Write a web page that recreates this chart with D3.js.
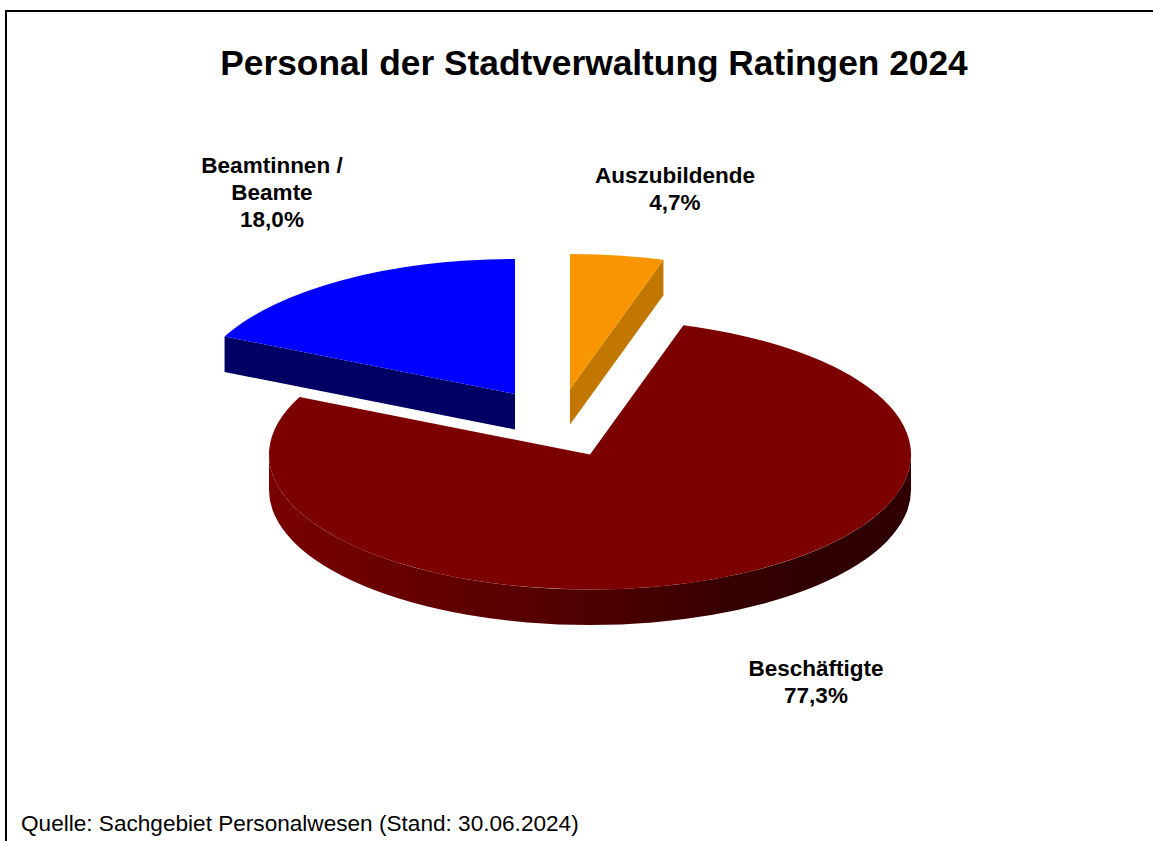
<!DOCTYPE html>
<html>
<head>
<meta charset="utf-8">
<script src="https://cdn.jsdelivr.net/npm/d3@7/dist/d3.min.js"></script>
<style>
html,body{margin:0;padding:0;background:#fff}
svg{display:block}
text{font-family:"Liberation Sans",Arial,sans-serif;fill:#000}
</style>
</head>
<body>
<svg id="c" width="1153" height="841"></svg>
<script>
const categories = ["Auszubildende", "Beschäftigte", "Beamtinnen / Beamte"];
const shares = [4.7, 77.3, 18.0];
const valueLabels = ["4,7%", "77,3%", "18,0%"];
const topColors = ["#f99500", "#7d0000", "#0000ff"];
const sideColors = ["#c27800", "url(#wall)", "#000064"];
const centers = [[570, 389], [590, 454.5], [515, 394]];
const labelLines = [["Auszubildende", "4,7%"], ["Beschäftigte", "77,3%"], ["Beamtinnen /", "Beamte", "18,0%"]];
const labelAnchors = [[675, 183], [816, 676], [272, 173]];
const titleText = "Personal der Stadtverwaltung Ratingen 2024";
const sourceText = "Quelle: Sachgebiet Personalwesen (Stand: 30.06.2024)";

const W = 1153, H = 841, rx = 321, ry = 135, depth = 35.5;
const svg = d3.select("#c");

// frame: top and left only
svg.append("path").attr("d", `M6,${H}V11H${W}`).attr("fill", "none").attr("stroke", "#000").attr("stroke-width", 2);

const defs = svg.append("defs");
const grad = defs.append("linearGradient").attr("id", "wall").attr("gradientUnits", "userSpaceOnUse")
  .attr("x1", centers[1][0] - rx).attr("x2", centers[1][0] + rx).attr("y1", 0).attr("y2", 0);
[[0, "#780000"], [0.2, "#680000"], [0.5, "#4e0000"], [0.7, "#380000"], [0.85, "#2e0000"], [1, "#300000"]]
  .forEach(([o, c]) => grad.append("stop").attr("offset", o).attr("stop-color", c));

const pie = d3.pie().sort(null).value(d => d);
const arcs = pie(shares);
const arc = d3.arc().innerRadius(0).outerRadius(rx);
const pt = (c, a, dy = 0) => [c[0] + rx * Math.sin(a), c[1] - ry * Math.cos(a) + dy];
const eps = 1e-6;

arcs.forEach((d, i) => {
  const c = centers[i];
  const g = svg.append("g");
  // outer wall: the part of the rim on the front half
  const a0 = Math.max(d.startAngle, Math.PI / 2), a1 = Math.min(d.endAngle, 3 * Math.PI / 2);
  if (a1 > a0) {
    const p0 = pt(c, a0), p1 = pt(c, a1), q1 = pt(c, a1, depth), q0 = pt(c, a0, depth);
    g.append("path")
      .attr("d", `M${p0}A${rx},${ry} 0 0 1 ${p1}L${q1}A${rx},${ry} 0 0 0 ${q0}Z`)
      .attr("fill", sideColors[i]);
  }
  // cut faces facing the viewer
  const face = a => {
    const p = pt(c, a), q = pt(c, a, depth);
    g.append("path")
      .attr("d", `M${c}L${p}L${q}L${c[0]},${c[1] + depth}Z`)
      .attr("fill", sideColors[i]);
  };
  if (Math.sin(d.startAngle) < -eps) face(d.startAngle);
  if (Math.sin(d.endAngle) > eps) face(d.endAngle);
  // top face: a d3 arc flattened into an ellipse
  g.append("path")
    .attr("transform", `translate(${c}) scale(1,${ry / rx})`)
    .attr("d", arc(d))
    .attr("fill", topColors[i]);
});

svg.append("text").attr("x", 594).attr("y", 75).attr("text-anchor", "middle")
  .attr("font-size", 35.3).attr("font-weight", "bold").text(titleText);

labelLines.forEach((lines, i) => {
  const t = svg.append("text").attr("text-anchor", "middle").attr("font-size", 22.5).attr("font-weight", "bold");
  lines.forEach((s, j) => t.append("tspan").attr("x", labelAnchors[i][0]).attr("y", labelAnchors[i][1] + j * 27).text(s));
});

svg.append("text").attr("x", 21).attr("y", 831).attr("font-size", 22.6).text(sourceText);
</script>
</body>
</html>
